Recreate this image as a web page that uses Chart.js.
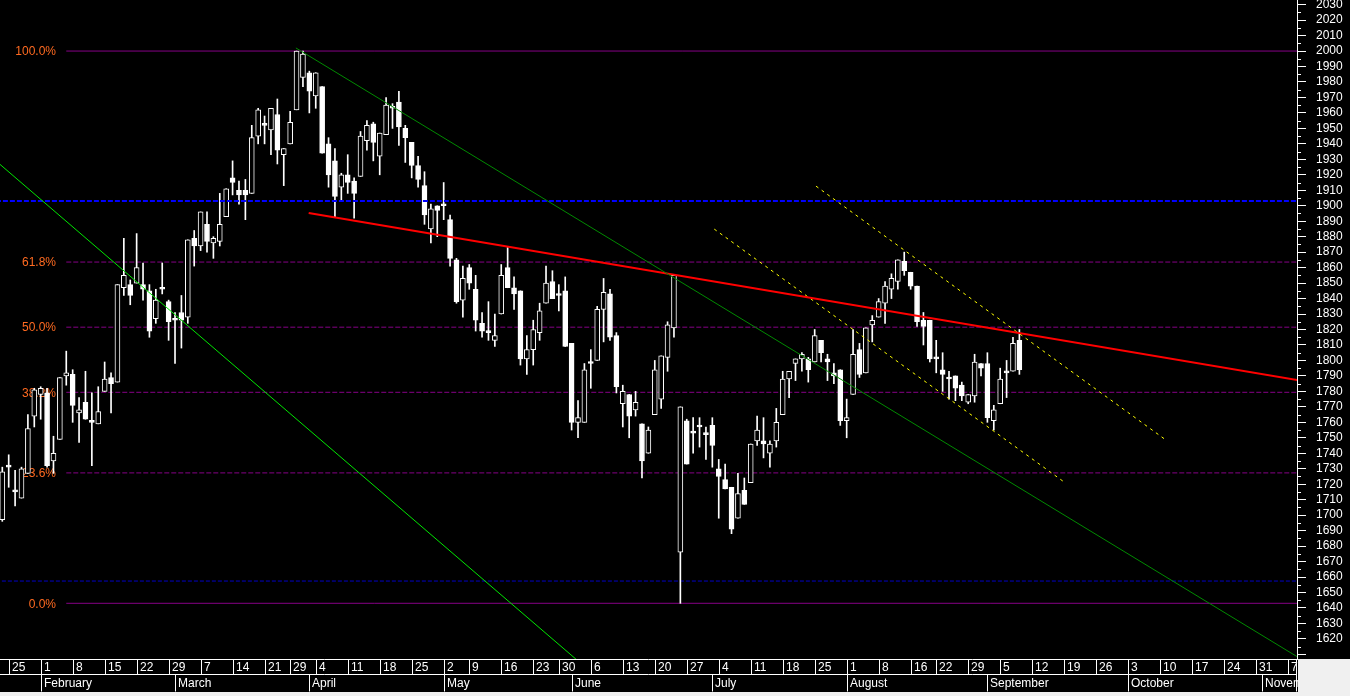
<!DOCTYPE html>
<html>
<head>
<meta charset="utf-8">
<title>Daily candles with fibonacci levels</title>
<script src="https://cdn.jsdelivr.net/npm/chart.js@4.4.0/dist/chart.umd.min.js"></script>
<style>
  html, body { margin: 0; padding: 0; background: #000; }
  #wrap { width: 1350px; height: 696px; }
</style>
</head>
<body>
<div id="wrap"><canvas id="chart" width="1350" height="696"></canvas></div>

<script>
// one candle per trading day, index 0 = first bar on the left
const opens = [
  1697,1731,1715,1711,1727,1764,1778,1779,1735,1749,
  1790,1791,1766,1773,1760,1759,1780,1789,1786,1847,
  1849,1850,1849,1845,1827,1846,1838,1827,1831,1828,
  1879,1874,1888,1876,1877,1893,1918,1910,1910,1908,
  1945,1952,1949,1959,1933,1940,1962,1983,1986,1971,
  1977,1940,1929,1912,1920,1916,1919,1942,1953,1932,
  1946,1963,1967,1950,1941,1926,1913,1885,1900,1900,
  1891,1865,1839,1860,1846,1824,1818,1813,1830,1860,
  1847,1845,1801,1807,1818,1837,1851,1842,1845,1811,
  1760,1760,1798,1800,1833,1843,1816,1772,1778,1768,
  1759,1740,1765,1775,1802,1821,1676,1761,1753,1757,
  1752,1758,1730,1723,1718,1698,1716,1721,1748,1748,
  1740,1748,1765,1788,1798,1801,1801,1799,1813,1801,
  1792,1794,1761,1778,1807,1792,1823,1828,1837,1846,
  1851,1864,1857,1848,1826,1826,1801,1794,1788,1790,
  1784,1773,1777,1798,1798,1761,1772,1792,1793,1813
];
const highs = [
  1731,1739,1729,1731,1765,1782,1783,1782,1751,1789,
  1806,1794,1776,1793,1779,1783,1799,1792,1849,1879,
  1852,1882,1863,1849,1846,1863,1839,1831,1842,1878,
  1884,1896,1896,1880,1908,1911,1929,1916,1917,1952,
  1963,1958,1963,1969,1937,1961,2000,2000,1987,1986,
  1977,1944,1937,1921,1933,1918,1948,1955,1954,1947,
  1970,1966,1974,1952,1941,1932,1922,1901,1900,1915,
  1894,1866,1861,1862,1855,1831,1838,1830,1862,1873,
  1854,1845,1816,1826,1837,1861,1858,1849,1854,1811,
  1774,1798,1807,1835,1853,1846,1818,1784,1778,1780,
  1759,1757,1800,1803,1825,1855,1770,1762,1763,1763,
  1757,1763,1736,1733,1718,1727,1724,1746,1764,1763,
  1748,1769,1793,1793,1801,1805,1802,1820,1813,1804,
  1798,1794,1775,1820,1811,1821,1829,1840,1851,1856,
  1865,1870,1857,1848,1831,1826,1813,1805,1793,1790,
  1786,1778,1804,1798,1805,1771,1795,1800,1815,1820
];
const lows = [
  1696,1718,1706,1711,1727,1757,1762,1731,1727,1749,
  1784,1760,1747,1762,1732,1759,1780,1766,1786,1842,
  1836,1850,1839,1815,1824,1843,1813,1798,1808,1824,
  1861,1871,1870,1866,1874,1893,1907,1901,1891,1908,
  1940,1940,1933,1927,1913,1940,1962,1977,1960,1963,
  1934,1912,1893,1903,1908,1892,1919,1936,1929,1920,
  1946,1950,1939,1928,1918,1912,1888,1876,1880,1891,
  1861,1837,1828,1846,1819,1815,1813,1809,1830,1847,
  1833,1797,1791,1797,1813,1837,1840,1832,1809,1755,
  1750,1760,1782,1800,1812,1813,1779,1757,1750,1764,
  1724,1740,1765,1769,1793,1815,1643,1733,1740,1744,
  1736,1731,1698,1717,1688,1698,1707,1721,1745,1737,
  1731,1744,1765,1776,1787,1793,1786,1799,1799,1787,
  1785,1758,1750,1778,1789,1792,1812,1828,1824,1840,
  1846,1855,1846,1822,1810,1799,1792,1780,1775,1774,
  1774,1772,1773,1790,1760,1755,1772,1776,1793,1791
];
const closes = [
  1728,1731,1715,1730,1756,1781,1782,1732,1740,1789,
  1792,1771,1768,1762,1760,1767,1788,1785,1849,1855,
  1842,1860,1846,1819,1839,1846,1825,1826,1826,1878,
  1874,1896,1877,1879,1888,1911,1915,1907,1907,1944,
  1962,1952,1963,1936,1937,1954,2000,1998,1974,1986,
  1934,1920,1906,1920,1915,1908,1945,1952,1941,1947,
  1965,1963,1951,1944,1926,1917,1894,1898,1897,1900,
  1866,1838,1853,1850,1826,1819,1818,1816,1855,1847,
  1843,1801,1807,1820,1832,1850,1840,1842,1809,1760,
  1763,1794,1798,1833,1844,1815,1783,1780,1764,1773,
  1735,1755,1794,1803,1823,1855,1770,1733,1753,1757,
  1752,1745,1725,1717,1691,1714,1707,1746,1755,1746,
  1746,1760,1788,1793,1801,1804,1794,1816,1805,1799,
  1790,1761,1763,1804,1791,1821,1826,1838,1848,1853,
  1865,1858,1848,1825,1822,1801,1801,1791,1788,1782,
  1777,1778,1799,1795,1763,1768,1788,1792,1811,1794
];

// bottom axis: first bar of each week / month (bar index)
const weekLabels = ['25','1','8','15','22','29','7','14','21','29','4','11','18','25',
  '2','9','16','23','30','6','13','20','27','4','11','18','25','1','8','16','22','29',
  '5','12','19','26','3','10','17','24','31','7'];
const weekPos = [1,6,11,16,21,26,31,36,41,45,49,54,59,64,69,73,78,83,87,92,97,102,107,
  112,117,122,127,132,137,142,146,151,156,161,166,171,176,181,186,191,196,201];
const monthLabels = ['February','March','April','May','June','July','August','September','October','November'];
const monthPos = [6,27,48,69,89,111,132,154,176,197];

// price axis labels
const yTicks = [];
for (let v = 1610; v <= 2030; v += 10) yTicks.push(v);

// fibonacci retracement (high 2000 -> low 1643)
const fibLabels = ['100.0%','61.8%','50.0%','38.2%','23.6%','0.0%'];
const fibPrices = [2000, 1863.6, 1821.5, 1779.4, 1727.3, 1643];

// drawn lines: [bar index, price] end points
const greenLine = [[-1, 1929], [95, 1588]];
const darkGreenLine = [[45.9, 2002], [205, 1602]];
const redLine = [[47.9, 1895.3], [205, 1785.6]];
const yellowUpper = [[127.2, 1912.7], [181.9, 1748.6]];
const yellowLower = [[111.3, 1884.9], [166.2, 1720.8]];
const blueLevel = 1903;
const darkBlueLevel = 1657.4;

const X_MIN = -0.36, X_MAX = 202.4;
const Y_MIN = 1607, Y_MAX = 2033;
const FONT = '"Liberation Sans", Arial, sans-serif';

const wickData = opens.map((o, i) => ({ x: i, y: [lows[i], highs[i]] }));
const bodyData = opens.map((o, i) => ({ x: i, y: [o, closes[i]] }));
const bodyFill = opens.map((o, i) => closes[i] > o ? '#000000' : '#ffffff');

function seg(pts) { return pts.map(p => ({ x: p[0], y: p[1] })); }
function hline(y, from) { return [{ x: from, y: y }, { x: X_MAX + 2, y: y }]; }

const lineBase = { type: 'line', pointRadius: 0, fill: false, tension: 0 };
const datasets = [
  Object.assign({}, lineBase, { data: seg(greenLine), borderColor: '#00e600', borderWidth: 1, order: 0 }),
  Object.assign({}, lineBase, { data: seg(darkGreenLine), borderColor: '#008a00', borderWidth: 1, order: 0 }),
  Object.assign({}, lineBase, { data: seg(redLine), borderColor: '#ff0000', borderWidth: 2, order: 0 }),
  Object.assign({}, lineBase, { data: seg(yellowUpper), borderColor: '#ffff00', borderWidth: 1, borderDash: [3, 4], order: 0 }),
  Object.assign({}, lineBase, { data: seg(yellowLower), borderColor: '#ffff00', borderWidth: 1, borderDash: [3, 4], order: 0 }),
  Object.assign({}, lineBase, { data: hline(blueLevel, -1), borderColor: '#0000ff', borderWidth: 2, borderDash: [5, 2], order: 0 }),
  {
    type: 'bar', data: bodyData, backgroundColor: bodyFill, borderColor: '#ffffff',
    borderWidth: 1, borderSkipped: false, barThickness: 5, minBarLength: 2,
    grouped: false, order: 1
  },
  {
    type: 'bar', data: wickData, backgroundColor: '#ffffff', borderWidth: 0,
    barThickness: 1, grouped: false, order: 2
  },
  Object.assign({}, lineBase, { data: hline(darkBlueLevel, -1), borderColor: '#0000c8', borderWidth: 1, borderDash: [4, 2], order: 3 })
];
fibPrices.forEach((p, k) => {
  const solid = k === 0 || k === fibPrices.length - 1;
  datasets.push(Object.assign({}, lineBase, {
    data: hline(p, 10), borderColor: '#860086', borderWidth: 1,
    borderDash: solid ? [] : [5, 2], order: 3
  }));
});

const chartFrame = {
  id: 'chartFrame',
  beforeDraw(chart) {
    const ctx = chart.ctx;
    ctx.save();
    ctx.fillStyle = '#000';
    ctx.fillRect(0, 0, chart.width, chart.height);
    ctx.fillStyle = '#f0f0f0';
    ctx.fillRect(chart.chartArea.right + 1, chart.chartArea.bottom, chart.width, chart.height);
    ctx.fillRect(0, 692, chart.width, chart.height - 692);
    ctx.restore();
  },
  beforeDatasetsDraw(chart) {
    const ctx = chart.ctx, ys = chart.scales.y;
    ctx.save();
    ctx.font = '12px ' + FONT;
    ctx.fillStyle = '#ff6a20';
    ctx.textAlign = 'right';
    ctx.textBaseline = 'middle';
    fibPrices.forEach((p, k) => ctx.fillText(fibLabels[k], 56, ys.getPixelForValue(p) + 1));
    ctx.restore();
  },
  afterDraw(chart) {
    const ctx = chart.ctx, xs = chart.scales.x, ys = chart.scales.y;
    const area = chart.chartArea;
    const top = Math.round(area.bottom) + 0.5, mid = 674.5, bot = 691.5;
    ctx.save();
    // minor price ticks
    ctx.strokeStyle = '#fff';
    ctx.lineWidth = 1;
    ctx.beginPath();
    yTicks.forEach(v => {
      const py = Math.round(ys.getPixelForValue(v + 5)) + 0.5;
      if (py > 0) { ctx.moveTo(area.right, py); ctx.lineTo(area.right + 4, py); }
    });
    ctx.stroke();

    // two-row date axis
    ctx.beginPath();
    ctx.rect(0, top - 1, area.right + 1, bot - top + 2);
    ctx.clip();
    ctx.beginPath();
    ctx.moveTo(0, top); ctx.lineTo(area.right, top);
    ctx.moveTo(0, mid); ctx.lineTo(area.right, mid);
    ctx.moveTo(area.right - 0.5, top); ctx.lineTo(area.right - 0.5, bot);
    weekPos.forEach(p => {
      const px = Math.round(xs.getPixelForValue(p)) + 0.5;
      ctx.moveTo(px, top); ctx.lineTo(px, mid);
    });
    monthPos.forEach(p => {
      const px = Math.round(xs.getPixelForValue(p)) + 0.5;
      ctx.moveTo(px, mid); ctx.lineTo(px, bot);
    });
    ctx.stroke();
    ctx.font = '12px ' + FONT;
    ctx.fillStyle = '#fff';
    ctx.textAlign = 'left';
    ctx.textBaseline = 'middle';
    weekPos.forEach((p, k) => ctx.fillText(weekLabels[k], Math.round(xs.getPixelForValue(p)) + 3, 667.5));
    monthPos.forEach((p, k) => ctx.fillText(monthLabels[k], Math.round(xs.getPixelForValue(p)) + 3, 683.5));
    ctx.restore();
  }
};

new Chart(document.getElementById('chart'), {
  type: 'bar',
  data: { datasets: datasets },
  options: {
    responsive: false,
    animation: false,
    events: [],
    layout: { padding: { left: 0, top: 0, right: 0, bottom: 37 } },
    plugins: { legend: { display: false }, tooltip: { enabled: false } },
    scales: {
      x: { type: 'linear', min: X_MIN, max: X_MAX, offset: false, display: false },
      y: {
        position: 'right', min: Y_MIN, max: Y_MAX,
        afterFit(scale) {
          scale.width = 53;
          scale.paddingTop = 0;
          scale.paddingBottom = 0;
        },
        afterBuildTicks(scale) {
          scale.ticks = yTicks.map(v => ({ value: v }));
        },
        ticks: {
          color: '#ffffff', padding: 10, autoSkip: false,
          font: { size: 12, family: FONT },
          callback: v => (v >= 1620 ? String(v) : '')
        },
        grid: { drawOnChartArea: false, tickLength: 9, tickColor: '#ffffff', tickWidth: 1 },
        border: { color: '#ffffff', width: 1 }
      }
    }
  },
  plugins: [chartFrame]
});
</script>
</body>
</html>
